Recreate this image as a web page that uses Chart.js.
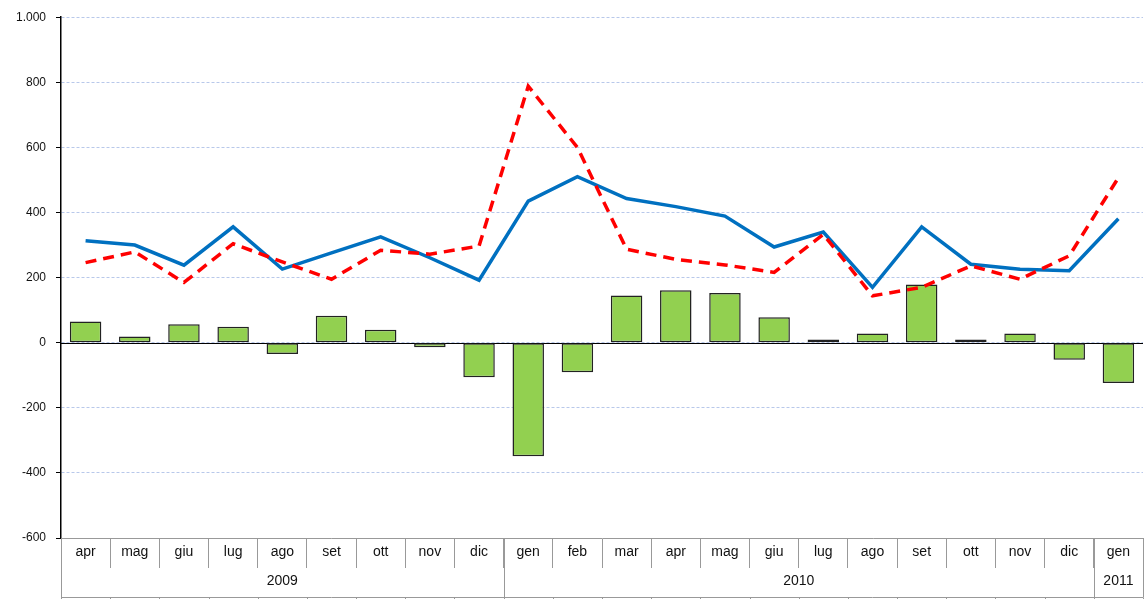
<!DOCTYPE html>
<html>
<head>
<meta charset="utf-8">
<script src="https://cdn.jsdelivr.net/npm/chart.js@4/dist/chart.umd.min.js"></script>
<style>
    html, body { margin: 0; padding: 0; background: #fff; }
    #wrap { position: relative; width: 1148px; height: 599px; }
</style>
</head>
<body>
<div id="wrap"><canvas id="mainChart"></canvas></div>
<script>
// Months (apr 2009 - gen 2011)
const months = ['apr', 'mag', 'giu', 'lug', 'ago', 'set', 'ott', 'nov', 'dic',
    'gen', 'feb', 'mar', 'apr', 'mag', 'giu', 'lug', 'ago', 'set', 'ott', 'nov', 'dic',
    'gen'];
const years = ['2009', '2010', '2011'];
const yearSpans = [9, 12, 1];

// Series values
const blueLine = [313, 300, 238, 356, 226, 276, 325, 261, 192,
    435, 510, 443, 418, 389, 294, 340, 170, 356, 241, 226, 221,
    381];
const redDashed = [246, 279, 185, 304, 248, 195, 284, 272, 297,
    788, 600, 287, 256, 239, 216, 333, 144, 170, 236, 195, 267,
    507];
const greenBars = [65, 19, 57, 49, -35, 83, 40, -14, -106,
    -349, -91, 145, 161, 153, 78, 10, 28, 179, 10, 28, -52,
    -124];

const yTicks = [-600, -400, -200, 0, 200, 400, 600, 800, 1000];

const FONT = '"Liberation Sans", Arial, sans-serif';

// Zero line (solid black) under the bars
const zeroLine = {
    id: 'zeroLine',
    beforeDatasetsDraw(chart) {
        const { ctx, chartArea, scales } = chart;
        const y = Math.round(scales.y.getPixelForValue(0)) + 0.5;
        ctx.save();
        ctx.strokeStyle = '#000';
        ctx.lineWidth = 1.2;
        ctx.beginPath();
        ctx.moveTo(chartArea.left, y);
        ctx.lineTo(chartArea.right, y);
        ctx.stroke();
        ctx.restore();
    }
};

// Second row of the category table: years
const yearRow = {
    id: 'yearRow',
    afterDraw(chart) {
        const { ctx, scales } = chart;
        const x = scales.x;
        const half = (x.getPixelForValue(1) - x.getPixelForValue(0)) / 2;
        const top = x.top;
        const bottom = 597.5;
        ctx.save();
        ctx.strokeStyle = '#999';
        ctx.lineWidth = 1;
        // bottom line
        ctx.beginPath();
        ctx.moveTo(x.getPixelForValue(0) - half, bottom);
        ctx.lineTo(x.getPixelForValue(months.length - 1) + half, bottom);
        ctx.stroke();
        // little ticks below the bottom line
        for (let i = 0; i <= months.length; i++) {
            const px = Math.round(x.getPixelForValue(i) - half) + 0.5;
            ctx.beginPath();
            ctx.moveTo(px, bottom);
            ctx.lineTo(px, bottom + 4);
            ctx.stroke();
        }
        // group boundaries and labels
        ctx.fillStyle = '#111';
        ctx.font = '14px ' + FONT;
        ctx.textAlign = 'center';
        ctx.textBaseline = 'middle';
        let start = 0;
        yearSpans.forEach((span, k) => {
            const x0 = x.getPixelForValue(start) - half;
            const x1 = x.getPixelForValue(start + span - 1) + half;
            [x0, x1].forEach(px => {
                const p = Math.round(px) + 0.5;
                ctx.beginPath();
                ctx.moveTo(p, top);
                ctx.lineTo(p, bottom);
                ctx.stroke();
            });
            ctx.fillText(years[k], (x0 + x1) / 2, 581);
            start += span;
        });
        ctx.restore();
    }
};

new Chart(document.getElementById('mainChart'), {
    type: 'bar',
    data: {
        labels: months,
        datasets: [{
            type: 'line',
            label: 'rosso',
            data: redDashed,
            borderColor: '#ff0000',
            borderWidth: 3.5,
            borderDash: [11, 7],
            pointRadius: 0,
            tension: 0,
            fill: false,
            order: 0
        }, {
            type: 'line',
            label: 'blu',
            data: blueLine,
            borderColor: '#0070c0',
            borderWidth: 3.5,
            pointRadius: 0,
            tension: 0,
            fill: false,
            order: 1
        }, {
            type: 'bar',
            label: 'saldo',
            data: greenBars,
            backgroundColor: '#92d050',
            borderColor: '#222',
            borderWidth: 1.5,
            borderSkipped: false,
            barPercentage: 0.64,
            categoryPercentage: 1,
            order: 2
        }]
    },
    options: {
        responsive: true,
        maintainAspectRatio: false,
        animation: false,
        layout: {
            padding: { top: 16, right: 5, left: 0, bottom: 0 }
        },
        plugins: {
            legend: { display: false },
            tooltip: { enabled: false }
        },
        scales: {
            y: {
                min: -600,
                max: 1000,
                afterBuildTicks: axis => {
                    axis.ticks = yTicks.map(v => ({ value: v }));
                },
                afterFit: axis => { axis.width = 61; },
                ticks: {
                    color: '#111',
                    font: { family: FONT, size: 12 },
                    padding: 10,
                    callback: value => value.toLocaleString('it-IT')
                },
                grid: {
                    color: ctx => (ctx.tick && (ctx.tick.value === -600)) ? 'rgba(0,0,0,0)' : '#b8c8ea',
                    tickColor: '#000',
                    tickLength: 5,
                    tickBorderDash: [],
                    lineWidth: 1
                },
                border: {
                    color: '#000',
                    width: 1.5,
                    dash: [3, 2]
                }
            },
            x: {
                offset: true,
                afterFit: axis => { axis.height = 61; },
                ticks: {
                    color: '#111',
                    font: { family: FONT, size: 14 },
                    padding: -24,
                    maxRotation: 0,
                    autoSkip: false
                },
                grid: {
                    offset: true,
                    drawOnChartArea: false,
                    color: '#999',
                    tickLength: 30
                },
                border: {
                    color: '#999',
                    width: 1
                }
            }
        }
    },
    plugins: [zeroLine, yearRow]
});
</script>
</body>
</html>
